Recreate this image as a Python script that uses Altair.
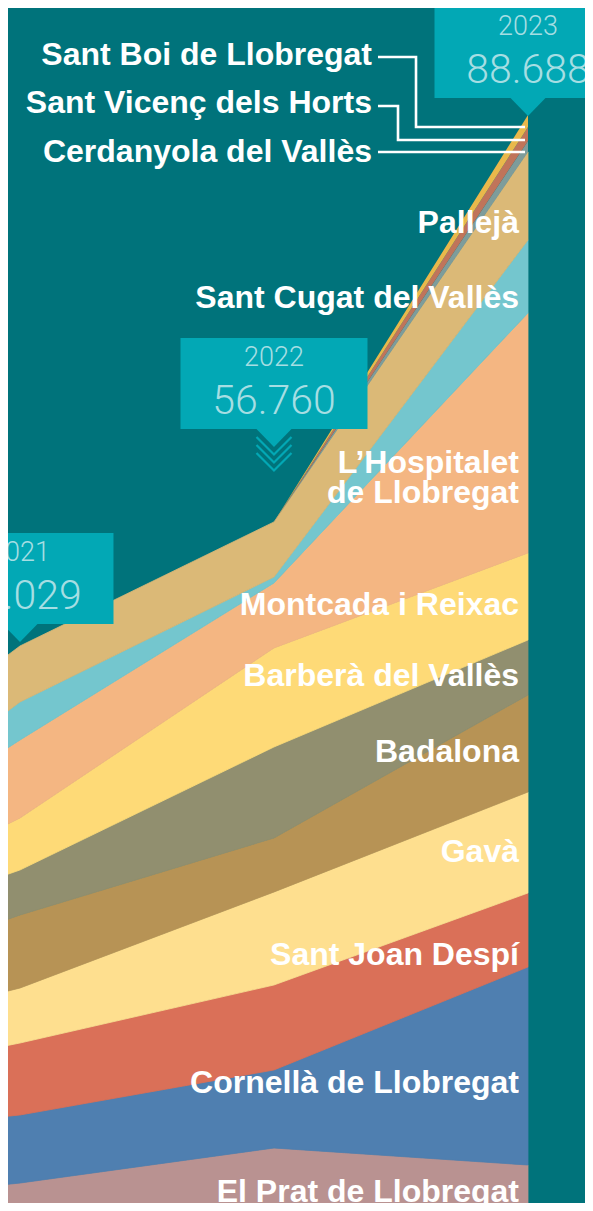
import altair as alt
import pandas as pd

# ---------------- data ----------------
years = [2020, 2021, 2022, 2023]

# stacking order: bottom -> top
municipalities = [
    "El Prat de Llobregat",
    "Cornellà de Llobregat",
    "Sant Joan Despí",
    "Gavà",
    "Badalona",
    "Barberà del Vallès",
    "Montcada i Reixac",
    "L’Hospitalet de Llobregat",
    "Sant Cugat del Vallès",
    "Pallejà",
    "Cerdanyola del Vallès",
    "Sant Vicenç dels Horts",
    "Sant Boi de Llobregat",
]

el_prat = [2903, 4902, 7650, 6316]
cornella = [5335, 5335, 6119, 15533]
sant_joan = [3687, 5648, 6668, 5805]
gava = [3295, 4315, 7296, 7923]
badalona = [3766, 5727, 4236, 7610]
barbera = [3530, 3530, 7139, 4315]
montcada = [1098, 4079, 7767, 6825]
hospitalet = [3138, 6119, 5099, 18828]
sant_cugat = [1020, 2981, 471, 5727]
palleja = [4393, 4393, 4315, 6904]
cerdanyola = [0, 0, 0, 863]
sant_vicenc = [0, 0, 0, 1098]
sant_boi = [0, 0, 0, 941]

series = [el_prat, cornella, sant_joan, gava, badalona, barbera, montcada,
          hospitalet, sant_cugat, palleja, cerdanyola, sant_vicenc, sant_boi]

colors = ["#B99291", "#4F7FB0", "#DA7058", "#FEDF8F", "#B79355", "#918F6F",
          "#FEDA77", "#F4B682", "#74C6CE", "#DBB977", "#7D9C9B", "#C0745A",
          "#E9B84B"]

callout_years = [2021, 2022, 2023]
callout_labels = ["2021", "2022", "2023"]
callout_totals = ["47.029", "56.760", "88.688"]

# labels on the chart
right_labels = ["Pallejà", "Sant Cugat del Vallès", "L’Hospitalet", "de Llobregat",
                "Montcada i Reixac", "Barberà del Vallès", "Badalona", "Gavà",
                "Sant Joan Despí", "Cornellà de Llobregat", "El Prat de Llobregat"]
top_labels = ["Sant Boi de Llobregat", "Sant Vicenç dels Horts", "Cerdanyola del Vallès"]

# ---------------- layout constants (annotation anchors in data units) ----------------
X_DOMAIN = [2020.9528, 2023.2244]
Y_DOMAIN = [3334, 97078]
UNIT = 78.447          # value units per pixel
YEAR_PX = 254.0        # pixels per year

right_label_x = 2022.9646
right_label_y = [79428, 73544, 60600, 58247, 49461, 43891, 37929, 30084, 22004, 11963, 3411]
top_label_x = 2022.3858
top_label_y = [92607, 88841, 84997]

box_bottom = [48755, 64054, 90018]
BOX_HALF_W = 93.5 / YEAR_PX
BOX_H = 91 * UNIT

BG = "#00737B"
BOX = "#02A8B5"
BOX_TEXT = "#A6DEE3"

# connector lines (year, value) per label
conn_x = [[2022.4094, 2022.5591, 2022.5591, 2022.9882],
          [2022.4094, 2022.4882, 2022.4882, 2022.9882],
          [2022.4094, 2022.9882]]
conn_y = [[93234, 93234, 87743, 87743],
          [89390, 89390, 86723, 86723],
          [85782, 85782]]

chevron_y = [62737, 62110, 61482]

# ---------------- build tables ----------------
rows = []
for idx, (name, vals) in enumerate(zip(municipalities, series)):
    for yr, v in zip(years, vals):
        rows.append({"municipi": name, "year": yr, "value": v, "idx": idx})
df = pd.DataFrame(rows)

xs = alt.Scale(domain=X_DOMAIN, nice=False, zero=False)
ys = alt.Scale(domain=Y_DOMAIN, nice=False, zero=False)
cs = alt.Scale(domain=municipalities, range=colors)


def X(f, **kw):
    return alt.X(f, type="quantitative", scale=xs, axis=None, **kw)


def Y(f, **kw):
    return alt.Y(f, type="quantitative", scale=ys, axis=None, **kw)


areas = alt.Chart(df).mark_area(clip=True, interpolate="linear", opacity=1, strokeWidth=0.8).encode(
    x=X("year"),
    y=Y("value", stack="zero"),
    color=alt.Color("municipi:N", scale=cs, legend=None),
    stroke=alt.Stroke("municipi:N", scale=cs, legend=None),
    strokeOpacity=alt.condition("datum.idx >= 10", alt.value(0), alt.value(1)),
    order=alt.Order("idx:Q", sort="ascending"),
)

FONT = "Liberation Sans, Arial, Helvetica, sans-serif"

lab_df = pd.DataFrame({"t": right_labels, "x": right_label_x, "y": right_label_y})
lab_text = alt.Chart(lab_df).mark_text(
    align="right", baseline="alphabetic", font=FONT, fontWeight="bold",
    fontSize=32, color="white"
).encode(x=X("x"), y=Y("y"), text="t:N")

top_df = pd.DataFrame({"t": top_labels, "x": top_label_x, "y": top_label_y})
top_text = alt.Chart(top_df).mark_text(
    align="right", baseline="alphabetic", font=FONT, fontWeight="bold",
    fontSize=32, color="white"
).encode(x=X("x"), y=Y("y"), text="t:N")

crow = []
for g, (cx, cy) in enumerate(zip(conn_x, conn_y)):
    for i, (a, b) in enumerate(zip(cx, cy)):
        crow.append({"g": g, "i": i, "x": a, "y": b})
conn = alt.Chart(pd.DataFrame(crow)).mark_line(color="white", strokeWidth=2.6, strokeCap="butt").encode(
    x=X("x"), y=Y("y"), detail="g:N", order="i:Q"
)

box_df = pd.DataFrame({
    "year": callout_years,
    "lab": callout_labels,
    "tot": callout_totals,
    "yb": box_bottom,
})
box_df["x1"] = box_df["year"] - BOX_HALF_W
box_df["x2"] = box_df["year"] + BOX_HALF_W
box_df["yt"] = box_df["yb"] + BOX_H
box_df["ylab"] = box_df["yb"] + 62.5 * UNIT
box_df["ytot"] = box_df["yb"] + 15 * UNIT

boxes = alt.Chart(box_df).mark_rect(color=BOX, opacity=1).encode(
    x=X("x1"), x2="x2", y=Y("yb"), y2="yt"
)
notch = alt.Chart(box_df).mark_point(
    shape="M-1,0L1,0L0,1.03Z", size=1225, filled=True, color=BOX, opacity=1, strokeWidth=0
).encode(x=X("year"), y=Y("yb"))

year_text = alt.Chart(box_df).mark_text(
    align="center", baseline="alphabetic", font="Roboto", fontWeight=300, fontSize=27, color=BOX_TEXT
).encode(x=X("year"), y=Y("ylab"), text="lab:N")
tot_text = alt.Chart(box_df).mark_text(
    align="center", baseline="alphabetic", font="Roboto", fontWeight=300, fontSize=41, color=BOX_TEXT
).encode(x=X("year"), y=Y("ytot"), text="tot:N")

chev_df = pd.DataFrame({"x": [2022] * 3, "y": chevron_y})
chev = alt.Chart(chev_df).mark_point(
    shape="M-1,-0.5L0,0.5L1,-0.5", size=1225, filled=False, color=BOX, opacity=1, strokeWidth=2.2
).encode(x=X("x"), y=Y("y"))

chart = alt.layer(
    areas, conn, boxes, notch, chev, year_text, tot_text, lab_text, top_text
).properties(
    width=577, height=1195, autosize=alt.AutoSizeParams(type="none"), padding=0,
    background=BG,
).configure_view(stroke=None)

chart.save("out.html", embed_options={"renderer": "svg", "actions": False})
